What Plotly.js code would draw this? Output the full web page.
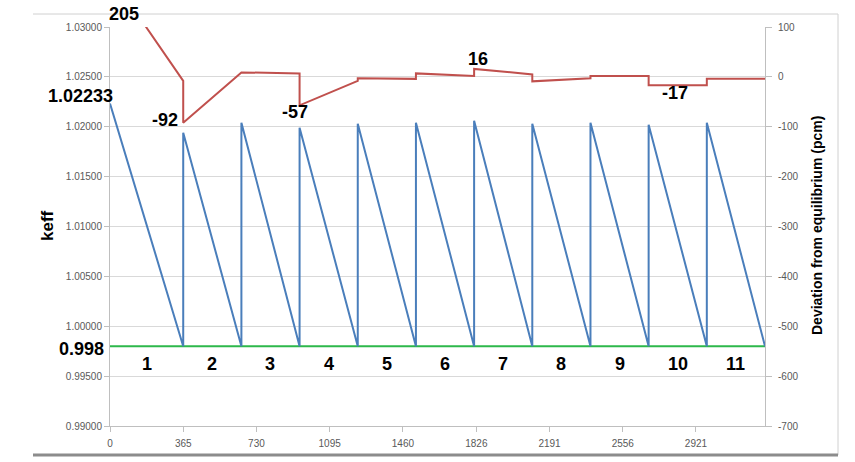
<!DOCTYPE html>
<html>
<head>
<meta charset="utf-8">
<script src="https://cdn.plot.ly/plotly-3.0.1.min.js"></script>
<style>
html,body{margin:0;padding:0;background:#fff;}
#chart{width:855px;height:462px;}
</style>
</head>
<body>
<div id="chart"></div>
<script>
// ---- data ----
const keffDays = [0, 365, 365, 655, 655, 945, 945, 1235, 1235, 1525, 1525, 1815, 1815, 2105, 2105, 2395, 2395, 2685, 2685, 2975, 2975, 3265];
const keffValues = [1.02233, 0.998, 1.0194, 0.998, 1.0204, 0.998, 1.0199, 0.998, 1.0203, 0.998, 1.0204, 0.998, 1.0206, 0.998, 1.0203, 0.998, 1.0204, 0.998, 1.0202, 0.998, 1.0204, 0.998];

const devDays = [0, 365, 365, 655, 945, 945, 1235, 1235, 1525, 1525, 1815, 1815, 2105, 2105, 2395, 2395, 2685, 2685, 2975, 2975, 3265];
const devValues = [205, -8, -92, 9, 7, -57, -8, -3, -4, 7, 2, 16, 5, -9, -3, 2, 2, -17, -17, -4, -4];

const limitDays = [0, 3265];
const limitValues = [0.998, 0.998];

const cycleStarts = [0, 365, 655, 945, 1235, 1525, 1815, 2105, 2395, 2685, 2975];
const cycleEnds = [365, 655, 945, 1235, 1525, 1815, 2105, 2395, 2685, 2975, 3265];
const cycleLabels = ['1', '2', '3', '4', '5', '6', '7', '8', '9', '10', '11'];

const xTickVals = [0, 365, 730, 1095, 1460, 1826, 2191, 2556, 2921];
const yTickVals = [0.99, 0.995, 1.0, 1.005, 1.01, 1.015, 1.02, 1.025, 1.03];
const y2TickVals = [-700, -600, -500, -400, -300, -200, -100, 0, 100];

const calloutText = ['205', '1.02233', '-92', '-57', '16', '-17', '0.998'];

// ---- chart ----
const FONT = 'Liberation Sans, Arial, sans-serif';
const gray = '#BFBFBF';

const traces = [
  {x: limitDays, y: limitValues, type: 'scatter', mode: 'lines', yaxis: 'y',
   line: {color: '#2DB84B', width: 2}, hoverinfo: 'skip'},
  {x: keffDays, y: keffValues, type: 'scatter', mode: 'lines', yaxis: 'y',
   line: {color: '#4A7EBB', width: 2}},
  {x: devDays, y: devValues, type: 'scatter', mode: 'lines', yaxis: 'y2',
   line: {color: '#C0504D', width: 2}}
];

// plot area px: x 110..765, y 27..426
const px = v => (v - 110) / 655;
const py = v => (426 - v) / 399;

const boldFont = {family: FONT, size: 18, color: '#000'};
const annotations = [];
cycleLabels.forEach((t, i) => {
  annotations.push({x: (cycleStarts[i] + cycleEnds[i]) / 2, y: 0.9962, xref: 'x', yref: 'y',
    text: '<b>' + t + '</b>', showarrow: false, font: boldFont});
});
function callout(text, x, y) {
  annotations.push({x: px(x), y: py(y), xref: 'paper', yref: 'paper', xanchor: 'center', yanchor: 'middle',
    text: '<b>' + text + '</b>', showarrow: false, font: boldFont});
}
callout(calloutText[0], 124, 14);
callout(calloutText[1], 80, 96);
callout(calloutText[2], 165, 120);
callout(calloutText[3], 295, 112);
callout(calloutText[4], 478, 59);
callout(calloutText[5], 675, 93);
callout(calloutText[6], 81, 349);
// axis titles
annotations.push({x: px(47), y: py(226), xref: 'paper', yref: 'paper', xanchor: 'center', yanchor: 'middle',
  text: '<b>keff</b>', textangle: -90, showarrow: false, font: {family: FONT, size: 17, color: '#000'}});
annotations.push({x: px(817), y: py(226), xref: 'paper', yref: 'paper', xanchor: 'center', yanchor: 'middle',
  text: '<b>Deviation from equilibrium (pcm)</b>', textangle: -90,
  showarrow: false, font: {family: FONT, size: 14, color: '#000'}});

const shapes = [
  {type: 'line', xref: 'paper', yref: 'paper', x0: px(33), x1: px(838), y0: py(14), y1: py(14), line: {color: '#D0D0D0', width: 1}},
  {type: 'line', xref: 'paper', yref: 'paper', x0: px(838), x1: px(838), y0: py(14), y1: py(455), line: {color: '#D0D0D0', width: 1}},
  {type: 'line', xref: 'paper', yref: 'paper', x0: px(33), x1: px(838), y0: py(455), y1: py(455), line: {color: '#8C8C8C', width: 3}}
];

const tickFont = {family: FONT, size: 10, color: '#595959'};
const layout = {
  width: 855, height: 462,
  margin: {l: 110, r: 90, t: 27, b: 36, pad: 0},
  paper_bgcolor: '#fff', plot_bgcolor: '#fff',
  showlegend: false,
  xaxis: {range: [0, 3265], tickvals: xTickVals, ticktext: xTickVals.map(String),
    showgrid: false, zeroline: false, showline: true, linecolor: gray, linewidth: 1,
    ticks: 'outside', ticklen: 5, tickcolor: gray, tickfont: tickFont, ticklabelstandoff: 3},
  yaxis: {range: [0.99, 1.03], tickvals: yTickVals, ticktext: yTickVals.map(v => v.toFixed(5)),
    showgrid: true, gridcolor: '#D9D9D9', gridwidth: 1, zeroline: false,
    showline: true, linecolor: gray, ticks: 'outside', ticklen: 5, tickcolor: gray, tickfont: tickFont},
  yaxis2: {range: [-700, 100], tickvals: y2TickVals, ticktext: y2TickVals.map(String), overlaying: 'y', side: 'right',
    showgrid: false, zeroline: false, showline: true, linecolor: gray,
    ticks: 'outside', ticklen: 6, tickcolor: gray, tickfont: tickFont, ticklabelstandoff: 4},
  annotations: annotations,
  shapes: shapes
};

Plotly.newPlot('chart', traces, layout, {displayModeBar: false, staticPlot: true});
</script>
</body>
</html>
